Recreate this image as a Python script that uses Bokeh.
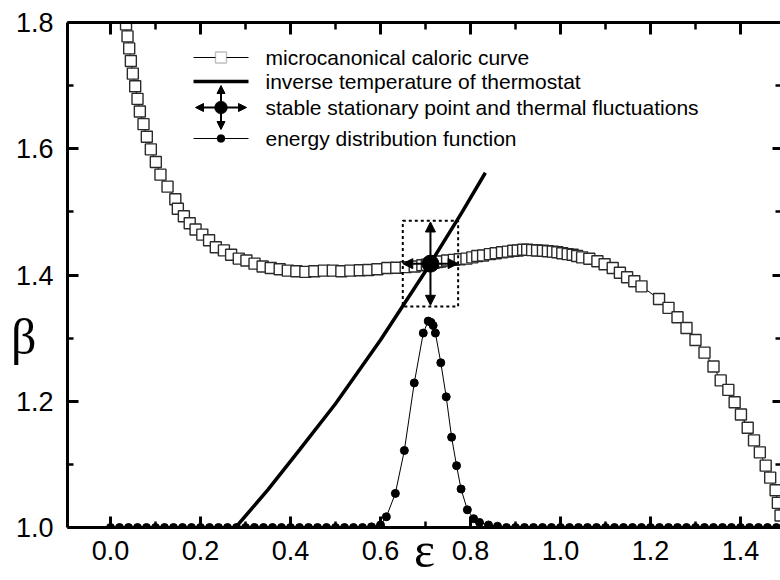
from bokeh.plotting import figure
from bokeh.models import (Range1d, LinearAxis, FixedTicker, PrintfTickFormatter, Arrow,
                          NormalHead, BoxAnnotation, Label, ColumnDataSource,
                          CustomJSTickFormatter, CustomLabelingPolicy)
from bokeh.embed import file_html
from bokeh.resources import INLINE

# ---------------- data ----------------
caloric_eps = [0.031, 0.0345, 0.0378, 0.0415, 0.0452, 0.0496, 0.0548, 0.0600, 0.0652, 0.0733,
               0.0807, 0.0896, 0.1007, 0.1110, 0.1267, 0.1440, 0.1496, 0.1630, 0.1760, 0.1890,
               0.2040, 0.2190, 0.2340, 0.2520, 0.2680, 0.2850, 0.3020, 0.3200, 0.3380, 0.3560,
               0.3760, 0.3940, 0.4130, 0.4330, 0.4530, 0.4740, 0.4940, 0.5130, 0.5330, 0.5540,
               0.5730, 0.5930, 0.6150, 0.6350, 0.6560, 0.6760, 0.6930, 0.7030, 0.7110, 0.7180,
               0.7260, 0.7330, 0.7480, 0.7630, 0.7760, 0.7910, 0.8040, 0.8150, 0.8280, 0.8430,
               0.8560, 0.8700, 0.8830, 0.8950, 0.9050, 0.9170, 0.9260, 0.9370, 0.9480, 0.9610,
               0.9720, 0.9830, 0.9930, 1.0040, 1.0160, 1.0270, 1.0370, 1.0480, 1.0640, 1.0820,
               1.0980, 1.1160, 1.1320, 1.1480, 1.1640, 1.1800, 1.2190, 1.2400, 1.2600, 1.2800,
               1.3000, 1.3200, 1.3400, 1.3560, 1.3730, 1.3870, 1.4010, 1.4160, 1.4300, 1.4430,
               1.4560, 1.4660, 1.4780, 1.4830, 1.4890]
caloric_beta = [1.818, 1.797, 1.778, 1.759, 1.739, 1.719, 1.699, 1.679, 1.659, 1.639,
                1.619, 1.599, 1.579, 1.559, 1.540, 1.520, 1.505, 1.493, 1.482, 1.472,
                1.464, 1.455, 1.444, 1.439, 1.432, 1.426, 1.423, 1.418, 1.4135, 1.411,
                1.409, 1.407, 1.406, 1.405, 1.406, 1.407, 1.407, 1.406, 1.407, 1.4076,
                1.408, 1.409, 1.411, 1.4115, 1.4125, 1.4135, 1.4155, 1.4165, 1.418, 1.4195,
                1.4205, 1.4215, 1.423, 1.424, 1.425, 1.426, 1.428, 1.430, 1.431, 1.433,
                1.4345, 1.436, 1.437, 1.4383, 1.4388, 1.440, 1.440, 1.4394, 1.4388, 1.4383,
                1.4377, 1.437, 1.436, 1.4345, 1.433, 1.432, 1.430, 1.428, 1.4257, 1.4219,
                1.417, 1.411, 1.4035, 1.3965, 1.390, 1.382, 1.362, 1.348, 1.333, 1.316,
                1.297, 1.277, 1.255, 1.233, 1.218, 1.1985, 1.179, 1.158, 1.138, 1.119,
                1.098, 1.079, 1.059, 1.039, 1.019]

thermo_eps = [0.278, 0.350, 0.420, 0.500, 0.600, 0.700, 0.780, 0.833]
thermo_beta = [1.000, 1.060, 1.123, 1.196, 1.297, 1.406, 1.498, 1.562]

dist_eps = [0.00, 0.02, 0.04, 0.06, 0.08, 0.10, 0.12, 0.14, 0.16, 0.18,
            0.20, 0.22, 0.24, 0.26, 0.28, 0.30, 0.32, 0.34, 0.36, 0.38,
            0.40, 0.42, 0.44, 0.46, 0.48, 0.50, 0.52, 0.54, 0.56, 0.58,
            0.600, 0.613, 0.633, 0.653, 0.675, 0.695, 0.706, 0.712, 0.717, 0.722,
            0.734, 0.746, 0.758, 0.769, 0.779, 0.793, 0.807, 0.820, 0.840, 0.860,
            0.88, 0.90, 0.92, 0.94, 0.96, 0.98, 1.00, 1.02, 1.04, 1.06,
            1.08, 1.10, 1.12, 1.14, 1.16, 1.18, 1.20, 1.22, 1.24, 1.26,
            1.28, 1.30, 1.32, 1.34, 1.36, 1.38, 1.40, 1.42, 1.44, 1.46, 1.48]
dist_beta = [1.0, 1.0, 1.0, 1.0, 1.0, 1.0, 1.0, 1.0, 1.0, 1.0,
             1.0, 1.0, 1.0, 1.0, 1.0, 1.0, 1.0, 1.0, 1.0, 1.0,
             1.0, 1.0, 1.0, 1.0, 1.0, 1.0, 1.0, 1.0, 1.0, 1.001,
             1.004, 1.017, 1.054, 1.122, 1.229, 1.308, 1.327, 1.325, 1.320, 1.308,
             1.261, 1.207, 1.143, 1.098, 1.061, 1.028, 1.014, 1.008, 1.004, 1.002,
             1.0, 1.0, 1.0, 1.0, 1.0, 1.0, 1.0, 1.0, 1.0, 1.0,
             1.0, 1.0, 1.0, 1.0, 1.0, 1.0, 1.0, 1.0, 1.0, 1.0,
             1.0, 1.0, 1.0, 1.0, 1.0, 1.0, 1.0, 1.0, 1.0, 1.0, 1.0]

stat_eps = [0.711]
stat_beta = [1.418]
fluct_eps = [0.0615]
fluct_beta = [0.066]

x_ticks = [0.0, 0.2, 0.4, 0.6, 0.8, 1.0, 1.2, 1.4]
x_minor = [-0.1, 0.1, 0.3, 0.5, 0.7, 0.9, 1.1, 1.3]
y_ticks = [1.0, 1.2, 1.4, 1.6, 1.8]
y_minor = [1.1, 1.3, 1.5, 1.7]

legend_labels = ["microcanonical caloric curve",
                 "inverse temperature of thermostat",
                 "stable stationary point and thermal fluctuations",
                 "energy distribution function"]
x_label = "ε"
y_label = "β"

FONT = "Liberation Sans"
SERIF = "Liberation Serif"

# ---------------- figure ----------------
p = figure(width=780, height=580, x_range=Range1d(-0.0956, 1.4889), y_range=Range1d(1.0, 1.8),
           output_backend="svg", toolbar_location=None,
           min_border_left=67, min_border_right=0, min_border_top=22, min_border_bottom=53)
p.grid.visible = False
p.outline_line_color = None
p.background_fill_color = "white"
p.border_fill_color = "white"

NO_LABELS = CustomLabelingPolicy(code="return new Set()")


def style_axis(ax, ticks, minor, show_labels, tick_in=11, minor_in=6, line=True):
    ax.ticker = FixedTicker(ticks=ticks, minor_ticks=minor)
    ax.formatter = PrintfTickFormatter(format="%.1f")
    ax.major_tick_in = tick_in
    ax.major_tick_out = 0
    ax.minor_tick_in = minor_in
    ax.minor_tick_out = 0
    ax.major_tick_line_width = 3
    ax.minor_tick_line_width = 2.5
    ax.major_tick_line_color = "black"
    ax.minor_tick_line_color = "black"
    ax.axis_line_width = 3
    ax.axis_line_color = "black" if line else None
    if show_labels:
        ax.major_label_text_font = FONT
        ax.major_label_text_font_size = "27px"
        ax.major_label_text_color = "black"
    else:
        ax.major_label_text_font_size = "0px"
        ax.major_label_standoff = 0
        ax.major_label_policy = NO_LABELS


style_axis(p.xaxis[0], x_ticks, x_minor, True)
p.xaxis[0].major_label_standoff = 13
style_axis(p.yaxis[0], y_ticks, y_minor, True)
p.yaxis[0].major_label_standoff = 14

top_ax = LinearAxis()
style_axis(top_ax, x_ticks, x_minor, False, tick_in=12, minor_in=7)
p.add_layout(top_ax, "above")
right_ax = LinearAxis()
style_axis(right_ax, y_ticks, y_minor, False, tick_in=8, minor_in=5, line=False)
p.add_layout(right_ax, "right")


def symbol_axis(text, pos, standoff, line_height=1.2):
    ax = LinearAxis(ticker=FixedTicker(ticks=[pos], minor_ticks=[]),
                    formatter=CustomJSTickFormatter(args=dict(t=text), code="return t"))
    ax.axis_line_color = None
    ax.major_tick_in = 0
    ax.major_tick_out = 0
    ax.minor_tick_in = 0
    ax.minor_tick_out = 0
    ax.major_label_text_font = SERIF
    ax.major_label_text_font_size = "50px"
    ax.major_label_text_color = "black"
    ax.major_label_text_line_height = line_height
    ax.major_label_standoff = standoff
    return ax


# axis symbols (beta at the left, epsilon under the tick labels)
p.add_layout(symbol_axis(y_label, 1.301, -24), "left")
p.add_layout(symbol_axis(x_label, 0.698, -41, line_height=0.7), "below")

# ---------------- data renderers ----------------
p.line(caloric_eps, caloric_beta, line_color="black", line_width=1)
p.scatter(caloric_eps, caloric_beta, marker="square", size=11, fill_color="white",
          line_color="#2a2a2a", line_width=1.4)

p.line(dist_eps, dist_beta, line_color="black", line_width=1)
p.scatter(dist_eps, dist_beta, marker="circle", size=8, fill_color="black", line_color="black")

p.line(thermo_eps, thermo_beta, line_color="black", line_width=3.5)

# fluctuation box and arrows
e0, b0, de, db = stat_eps[0], stat_beta[0], fluct_eps[0], fluct_beta[0]
p.add_layout(BoxAnnotation(left=e0 - de, right=e0 + de, bottom=b0 - db - 0.002, top=b0 + db + 0.002,
                           fill_alpha=0, fill_color=None, line_color="black", line_alpha=1,
                           line_width=2, line_dash="3 3"))
arrow_src = ColumnDataSource(dict(
    x0=[e0, e0, e0, e0], y0=[b0, b0, b0, b0],
    x1=[e0, e0, e0 + de, e0 - de], y1=[b0 + db, b0 - db, b0, b0]))
p.add_layout(Arrow(end=NormalHead(size=10, fill_color="black", line_color="black"),
                   x_start="x0", y_start="y0", x_end="x1", y_end="y1", source=arrow_src,
                   line_width=2, line_color="black"))
p.scatter(stat_eps, stat_beta, marker="circle", size=17, fill_color="black", line_color="black")

# ---------------- legend (screen units, relative to frame) ----------------
row_y = [470, 446, 420, 389]
gx0, gx1, gxc, tx = 126, 181, 153.5, 198


def sline(x0, y0, x1, y1, w):
    p.add_layout(Arrow(start=None, end=None, x_start=x0, y_start=y0, x_end=x1, y_end=y1,
                       start_units="screen", end_units="screen", line_width=w, line_color="black"))


def sbox(cx, cy, s, fill, line, lw, radius=0):
    p.add_layout(BoxAnnotation(left=cx - s / 2, right=cx + s / 2, bottom=cy - s / 2, top=cy + s / 2,
                               left_units="screen", right_units="screen",
                               bottom_units="screen", top_units="screen",
                               fill_color=fill, fill_alpha=1, line_color=line, line_width=lw,
                               border_radius=radius))


sline(gx0, row_y[0], gx1, row_y[0], 1)
sbox(gxc, row_y[0], 11, "white", "#2a2a2a", 1.4)
sline(gx0, row_y[1], gx1, row_y[1], 3.5)
for (xe, ye) in [(128, row_y[2]), (179, row_y[2]), (gxc, row_y[2] + 22), (gxc, row_y[2] - 22)]:
    p.add_layout(Arrow(end=NormalHead(size=8, fill_color="black", line_color="black"),
                       x_start=gxc, y_start=row_y[2], x_end=xe, y_end=ye,
                       start_units="screen", end_units="screen", line_width=2, line_color="black"))
sbox(gxc, row_y[2], 13, "black", "black", 1, radius=7)
sline(gx0, row_y[3], gx1, row_y[3], 1)
sbox(gxc, row_y[3], 8, "black", "black", 1, radius=4)

for lab, yy in zip(legend_labels, row_y):
    p.add_layout(Label(x=tx, y=yy, x_units="screen", y_units="screen", text=lab,
                       text_font=FONT, text_font_size="21px", text_baseline="middle",
                       text_align="left", text_color="black"))

open("out.html", "w").write(file_html(p, INLINE))
